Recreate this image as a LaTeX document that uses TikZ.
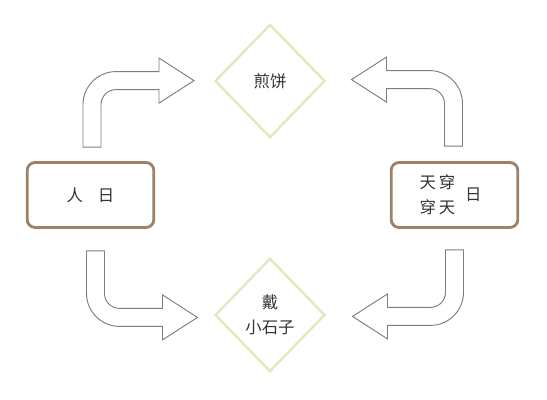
\documentclass[tikz,border=0pt]{standalone}
\usepackage{fontspec}
\usepackage{xcolor}
\usepackage{tikz}
\usetikzlibrary{positioning, shapes.geometric, calc}
\newfontfamily\cjk{Noto Sans CJK SC}

\definecolor{boxbrown}{RGB}{156,128,104}
\definecolor{diamondgreen}{RGB}{226,232,190}
\definecolor{arrowgray}{RGB}{125,125,125}

\tikzset{
  cjktext/.style={font=\cjk\fontsize{14}{21}\selectfont, text=black!80, align=center},
  daybox/.style={rectangle, rounded corners=0.24cm, draw=boxbrown, line width=2.4pt,
    minimum width=3.8cm, minimum height=1.95cm, cjktext},
  foodbox/.style={diamond, draw=diamondgreen, line width=2pt, inner sep=0pt,
    minimum width=3.3cm, minimum height=3.4cm, cjktext},
  bentarrow/.pic={
    \draw[arrowgray, line width=0.8pt, fill=white]
      (-9,0) -- (-9,42.5) arc[start angle=180, end angle=90, radius=33]
      -- (67,75.5) -- (67,89) -- (102,66.5) -- (67,44) -- (67,57.5) -- (24,57.5)
      arc[start angle=90, end angle=180, radius=15] -- (9,0) -- cycle;
  }
}

\begin{document}
\begin{tikzpicture}[x=0.03cm, y=0.03cm]
  \useasboundingbox (0,0) rectangle (547,400);

  \node[daybox] (renri) at (90.5,205) {人\hspace{0.9em}日};
  \node[daybox] (tianchuan) at (454.5,205) {};
  \node[cjktext] (chuan) at ($(tianchuan)+(-17,0)$) {天\,穿\\穿\,天};
  \node[cjktext, right=0.05cm of chuan] (ri) {日};
  \node[foodbox] (jianbing) at (270,319) {煎饼};
  \node[foodbox] (shizi) at (270,85) {戴\\小石子};

  % arrows from the two days to the two customs
  \pic at ($(renri.north)+(1.5,14)$) {bentarrow};
  \pic[xscale=-1] at ($(tianchuan.north)+(-1,15)$) {bentarrow};
  \pic[yscale=-1] at ($(renri.south)+(5,-22)$) {bentarrow};
  \pic[xscale=-1, yscale=-1] at ($(tianchuan.south)+(0,-21)$) {bentarrow};
\end{tikzpicture}
\end{document}
